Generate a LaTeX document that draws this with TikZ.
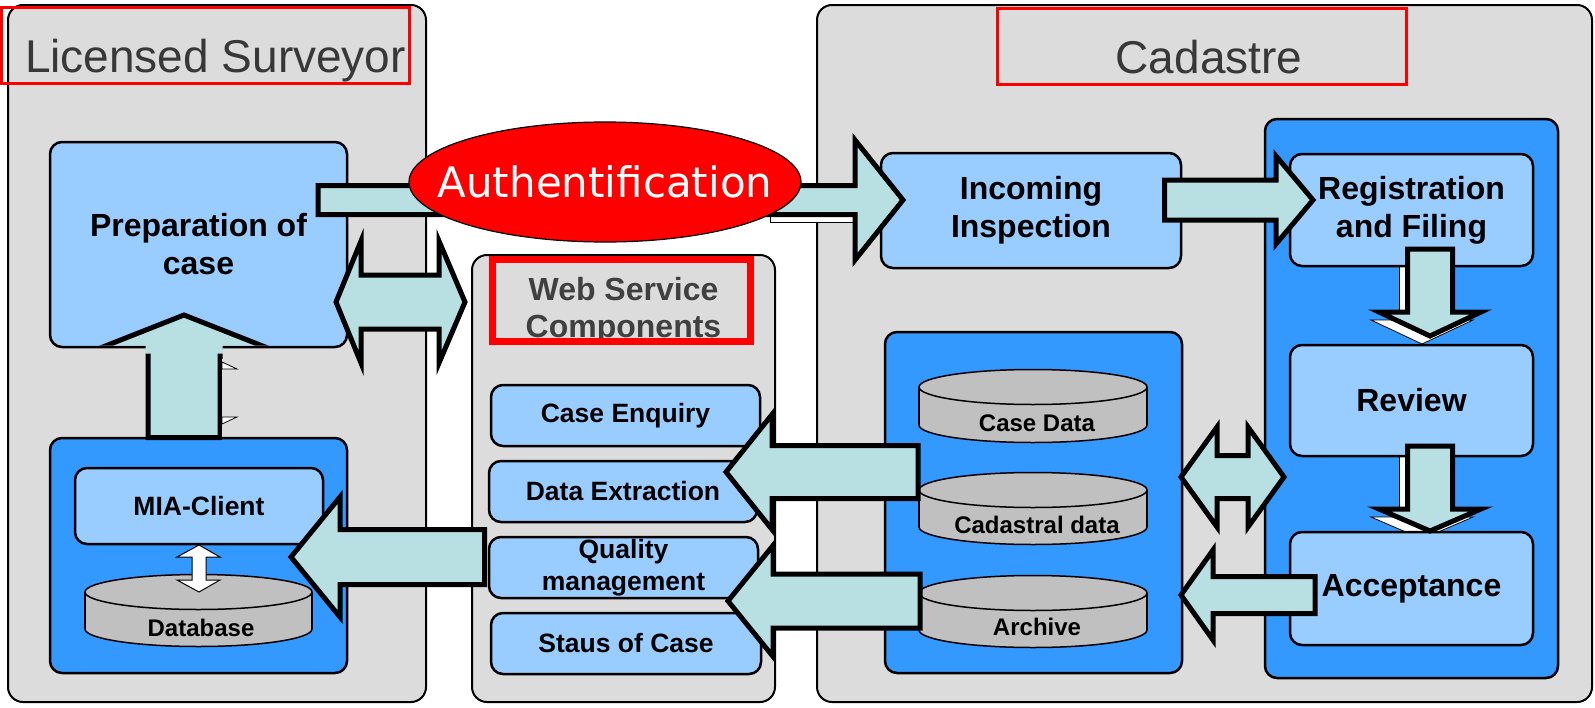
\documentclass[tikz,border=0pt]{standalone}
\usepackage{fontspec}
\setmainfont{Liberation Sans}
\newfontfamily\dejavu{DejaVu Sans}
\usetikzlibrary{shapes.geometric}
\definecolor{panelgray}{HTML}{DCDCDC}
\definecolor{lightblue}{HTML}{99CCFF}
\definecolor{midblue}{HTML}{3399FF}
\definecolor{arrowteal}{HTML}{B8DFE2}
\definecolor{cylgray}{HTML}{C0C0C0}
\definecolor{titlegray}{HTML}{383838}
\definecolor{wsgray}{HTML}{404040}
\newcommand\setfs[2]{\fontsize{#1}{#2}\selectfont}
% horizontal block arrow: style, tail x, head-base x, tip x, centre y, shaft half, wing half
\newcommand\hblk[7]{%
  \filldraw[#1] (#2,{#5-#6}) -- (#3,{#5-#6}) -- (#3,{#5-#7}) -- (#4,#5) -- (#3,{#5+#7}) -- (#3,{#5+#6}) -- (#2,{#5+#6}) -- cycle;}
% vertical block arrow: style, centre x, tail y, head-base y, tip y, shaft half, wing half
\newcommand\vblk[7]{%
  \filldraw[#1] ({#2-#6},#3) -- ({#2-#6},#4) -- ({#2-#7},#4) -- (#2,#5) -- ({#2+#7},#4) -- ({#2+#6},#4) -- ({#2+#6},#3) -- cycle;}
% double block arrow: style, left tip, left base, right base, right tip, centre y, shaft half, wing half
\newcommand\dblk[8]{%
  \filldraw[#1] (#2,#6) -- (#3,{#6-#8}) -- (#3,{#6-#7}) -- (#4,{#6-#7}) -- (#4,{#6-#8}) -- (#5,#6) -- (#4,{#6+#8}) -- (#4,{#6+#7}) -- (#3,{#6+#7}) -- (#3,{#6+#8}) -- cycle;}
% cylinder: centre x, x radius, top y, bottom y, y radius
\newcommand\dbcyl[5]{%
  \filldraw[cyl] (#1,#4) ellipse [x radius=#2pt, y radius=#5pt];
  \fill[cylgray] ({#1-#2},#3) rectangle ({#1+#2},#4);
  \draw[cyl, fill=none] ({#1-#2},#3) -- ({#1-#2},#4) ({#1+#2},#3) -- ({#1+#2},#4);
  \filldraw[cyl] (#1,#3) ellipse [x radius=#2pt, y radius=#5pt];}
\begin{document}
\begin{tikzpicture}[x=1pt,y=-1pt,
  panel/.style={draw=black, line width=2pt, fill=panelgray, rounded corners=15pt, inner sep=0pt},
  container/.style={draw=black, line width=2.5pt, fill=midblue, rounded corners=12pt, inner sep=0pt},
  box/.style={draw=black, line width=2.5pt, fill=lightblue, rounded corners=12pt, inner sep=0pt, align=center, font=\bfseries\setfs{32}{38}},
  wsbox/.style={box, font=\bfseries\setfs{26.5}{32}},
  titlebox/.style={draw=red, line width=3pt, inner sep=0pt},
  titletext/.style={text=titlegray, font=\setfs{46}{50}, inner sep=0pt},
  wstitletext/.style={text=wsgray, font=\bfseries\setfs{32}{37}, align=center, inner sep=0pt},
  blockarrow/.style={draw=black, line width=5pt, fill=arrowteal, line join=miter},
  shadowarrow/.style={draw=black, line width=0.8pt, fill=white},
  cyl/.style={draw=black, line width=1.5pt, fill=cylgray},
  cyltext/.style={font=\bfseries\setfs{24}{28}, inner sep=0pt},
  smallarrow/.style={draw=black, line width=1pt, fill=white}]
\useasboundingbox (0,0) rectangle (1595,707);
\fill[white] (0,0) rectangle (1595,707);

% panels
\node[panel, minimum width=418pt, minimum height=697pt] (ls) at (217,353.5) {};
\node[panel, minimum width=303pt, minimum height=447pt] (ws) at (623.5,478.5) {};
\node[panel, minimum width=775pt, minimum height=697pt] (cad) at (1204.5,353.5) {};

% titles
\node[titletext, anchor=base] (lstitle) at (215.5,72) {Licensed Surveyor};
\node[titletext, anchor=base] (cadtitle) at (1209,73) {Cadastre};
\node[wstitletext] (wstitle) at (623.5,311) {Web Service\\Components};
\node[titlebox, minimum width=407.5pt, minimum height=76pt] (lsbox) at (205.25,45) {};
\node[titlebox, minimum width=409pt, minimum height=76pt] (cadbox) at (1201.5,46) {};
\node[titlebox, line width=7pt, minimum width=257.5pt, minimum height=82pt] (wsbox) at (621.25,300) {};

% inner containers
\node[container, minimum width=297pt, minimum height=235pt] (miacont) at (198.5,555.5) {};
\node[container, minimum width=297pt, minimum height=341pt] (dbcont) at (1033.5,502.5) {};
\node[container, minimum width=293pt, minimum height=559pt] (regcont) at (1411.5,398.5) {};

% white shadows
\vblk{shadowarrow}{1422}{257}{320}{344}{22.5}{51}
\vblk{shadowarrow}{1422}{454}{517}{539}{22.5}{51}
\filldraw[shadowarrow] (222,362) -- (237,369) -- (222,369) -- cycle;
\filldraw[shadowarrow] (222,417) -- (237,417) -- (222,424) -- cycle;
\filldraw[shadowarrow] (770,190) rectangle (853,222);

% boxes
\node[box, minimum width=297pt, minimum height=205pt] (prep) at (198.5,244.5) {Preparation of\\case};
\node[wsbox, minimum width=248pt, minimum height=76pt] (mia) at (199,506) {MIA-Client};
\node[box, minimum width=300pt, minimum height=115pt] (incoming) at (1031,210.5) {Incoming\\Inspection};
\node[box, minimum width=243pt, minimum height=112pt] (reg) at (1411.5,210) {Registration\\and Filing};
\node[box, minimum width=243pt, minimum height=111pt] (review) at (1411.5,400.5) {Review};
\node[box, minimum width=243pt, minimum height=113pt] (accept) at (1411.5,588.5) {Acceptance};
\node[wsbox, minimum width=269pt, minimum height=61pt] (caseenq) at (625.5,415.5) {Case Enquiry};
\node[wsbox, minimum width=268pt, minimum height=61pt] (dataext) at (623,491.5) {Data Extraction};
\node[wsbox, minimum width=269pt, minimum height=61pt] (quality) at (623.5,567.5) {Quality\\management};
\node[wsbox, minimum width=270pt, minimum height=61pt] (status) at (626,643.5) {Staus of Case};

% cylinders
\dbcyl{198.5}{113.5}{592}{629}{17.5}
\node[cyltext, anchor=base] (database) at (201,636) {Database};
\dbcyl{1033}{114}{387}{425}{17.5}
\node[cyltext, anchor=base] (casedata) at (1037,431) {Case Data};
\dbcyl{1033}{114}{490}{527}{17.5}
\node[cyltext, anchor=base] (cadastral) at (1037,533) {Cadastral data};
\dbcyl{1033}{114}{593}{630}{17.5}
\node[cyltext, anchor=base] (archive) at (1037,635) {Archive};

% small white double arrow MIA-Client <-> Database
\filldraw[smallarrow] (199,545) -- (220,557) -- (206,557) -- (206,580) -- (220,580) -- (199,592)
  -- (177,580) -- (192,580) -- (192,557) -- (177,557) -- cycle;

% authentification arrow and ellipse
\hblk{blockarrow}{318}{855}{903}{200}{14.5}{60}
\node[ellipse, draw=black, line width=1.2pt, fill=red, minimum width=392pt, minimum height=120pt, inner sep=0pt] (auth) at (605,182) {};
\node[text=white, font=\dejavu\setfs{42}{48}, inner sep=0pt] (authtext) at (auth.center) {Authentification};

% block arrows
\dblk{blockarrow}{336}{361}{439}{465}{302}{27}{61}
\begin{scope}
  \clip (0,0) rectangle (1595,345.5) (145.5,340) rectangle (222.5,450);
  \vblk{blockarrow}{184}{437.5}{356}{315}{36}{104}
\end{scope}
\hblk{blockarrow}{1164.5}{1276}{1313}{200}{20}{44}
\vblk{blockarrow}{1430}{249}{312}{336}{22.5}{51}
\vblk{blockarrow}{1430}{446}{509}{531}{22.5}{51}
\dblk{blockarrow}{1181}{1217}{1248}{1284}{477}{21.5}{50}
\hblk{blockarrow}{1315}{1213}{1181}{595}{18.5}{45}
\hblk{blockarrow}{918}{772}{726}{472}{26.5}{57.5}
\hblk{blockarrow}{920}{773}{728}{601}{27}{55.5}
\hblk{blockarrow}{484.5}{340}{291}{557}{27.5}{60}
\end{tikzpicture}
\end{document}
